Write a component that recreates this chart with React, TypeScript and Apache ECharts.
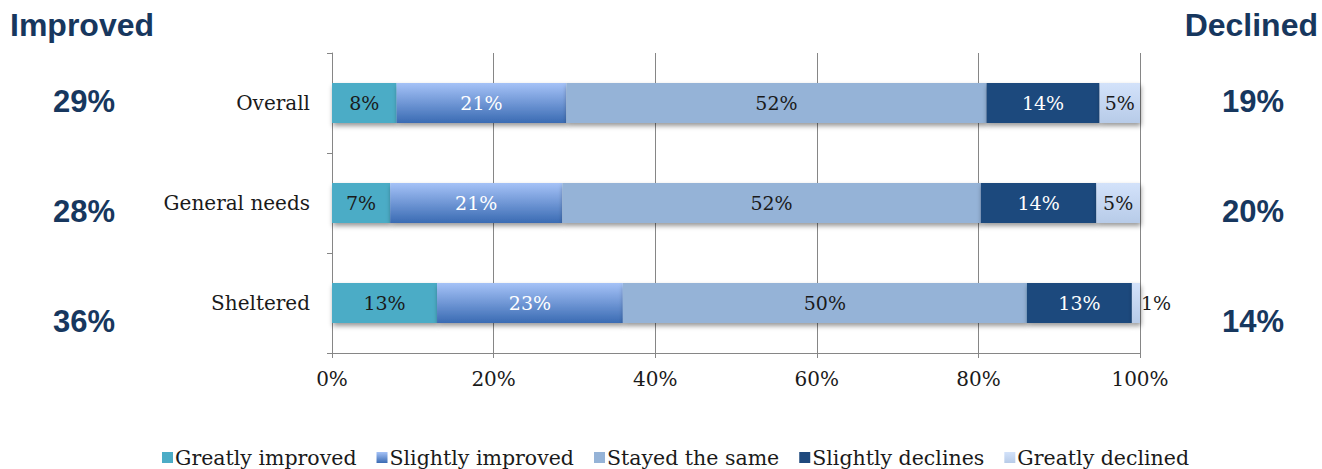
import { useEffect, useRef } from "react";
import * as echarts from "echarts";

const categories = ["Overall", "General needs", "Sheltered"];
const seriesNames = ["Greatly improved", "Slightly improved", "Stayed the same", "Slightly declines", "Greatly declined"];
const greatlyImproved = [8, 7.2, 13];
const slightlyImproved = [21, 21.3, 23];
const stayedSame = [52, 51.8, 50];
const slightlyDeclines = [14, 14.3, 13];
const greatlyDeclined = [5, 5.4, 1];
const improvedTotals = ["29%", "28%", "36%"];
const declinedTotals = ["19%", "20%", "14%"];

const SERIF = "'DejaVu Serif', serif";
const SANS = "'Liberation Sans', Arial, sans-serif";
const NAVY = "#17375E";

export default function App() {
  const ref = useRef<HTMLDivElement>(null);
  useEffect(() => {
    if (!ref.current) return;
    const chart = echarts.init(ref.current, undefined, { renderer: "svg" });
    const vGrad = (a: string, b: string) =>
      new echarts.graphic.LinearGradient(0, 0, 0, 1, [
        { offset: 0, color: a },
        { offset: 1, color: b },
      ]);
    const styles = [
      { color: "#4BACC6", label: "#1a1a1a" },
      { color: vGrad("#A5C2F7", "#3A6BB3"), label: "#ffffff" },
      { color: "#95B3D7", label: "#1a1a1a" },
      { color: "#1F497D", label: "#ffffff" },
      { color: vGrad("#D3E2FA", "#B7CBE8"), label: "#1a1a1a" },
    ];
    const dataSets = [greatlyImproved, slightlyImproved, stayedSame, slightlyDeclines, greatlyDeclined];
    const series = dataSets.map((d, i) => ({
      name: seriesNames[i],
      type: "bar",
      stack: "total",
      barWidth: 40,
      data: d.map((v) =>
        v < 3 ? { value: v, label: { position: "right", distance: 1 } } : v
      ),
      itemStyle: {
        color: styles[i].color,
        shadowColor: "rgba(0,0,0,0.4)",
        shadowBlur: 5,
        shadowOffsetY: 3,
        shadowOffsetX: 1,
      },
      label: {
        show: true,
        position: "inside",
        color: styles[i].label,
        fontFamily: SERIF,
        fontSize: 19,
        formatter: (p: any) => Math.round(p.value) + "%",
      },
    }));
    const rowYs = [101, 211, 321];
    const graphics: any[] = [
      {
        type: "text",
        left: 10,
        top: 9,
        style: { text: "Improved", fill: NAVY, font: `bold 32px ${SANS}` },
      },
      {
        type: "text",
        right: 4,
        top: 9,
        style: { text: "Declined", fill: NAVY, font: `bold 32px ${SANS}` },
      },
    ];
    improvedTotals.forEach((t, i) => {
      graphics.push({
        type: "text",
        x: 84,
        y: rowYs[i],
        style: { text: t, fill: NAVY, font: `bold 31px ${SANS}`, align: "center", verticalAlign: "middle" },
      });
    });
    declinedTotals.forEach((t, i) => {
      graphics.push({
        type: "text",
        x: 1253,
        y: rowYs[i],
        style: { text: t, fill: NAVY, font: `bold 31px ${SANS}`, align: "center", verticalAlign: "middle" },
      });
    });
    chart.setOption({
      animation: false,
      grid: { left: 332, right: 182, top: 53, bottom: 116, containLabel: false },
      xAxis: {
        type: "value",
        min: 0,
        max: 100,
        interval: 20,
        axisLabel: { formatter: "{value}%", fontFamily: SERIF, fontSize: 20, color: "#1a1a1a", margin: 16 },
        axisLine: { show: true, lineStyle: { color: "#868686" } },
        axisTick: { show: true, length: 5, lineStyle: { color: "#868686" } },
        splitLine: { show: true, lineStyle: { color: "#868686", width: 1 } },
      },
      yAxis: {
        type: "category",
        inverse: true,
        data: categories,
        axisLabel: { fontFamily: SERIF, fontSize: 20, color: "#1a1a1a", margin: 22 },
        axisLine: { show: true, lineStyle: { color: "#868686" } },
        axisTick: { show: true, length: 5, lineStyle: { color: "#868686" } },
        splitLine: { show: false },
      },
      legend: {
        data: seriesNames,
        top: 447,
        left: 162,
        padding: 0,
        itemWidth: 11,
        itemHeight: 11,
        itemGap: 20,
        icon: "rect",
        textStyle: { fontFamily: SERIF, fontSize: 20.5, color: "#1a1a1a", padding: [0, 0, 0, -3] },
      },
      graphic: graphics,
      series,
    });
    return () => chart.dispose();
  }, []);
  return <div ref={ref} style={{ position: "absolute", left: 0, top: 0, width: 1322, height: 469 }} />;
}
